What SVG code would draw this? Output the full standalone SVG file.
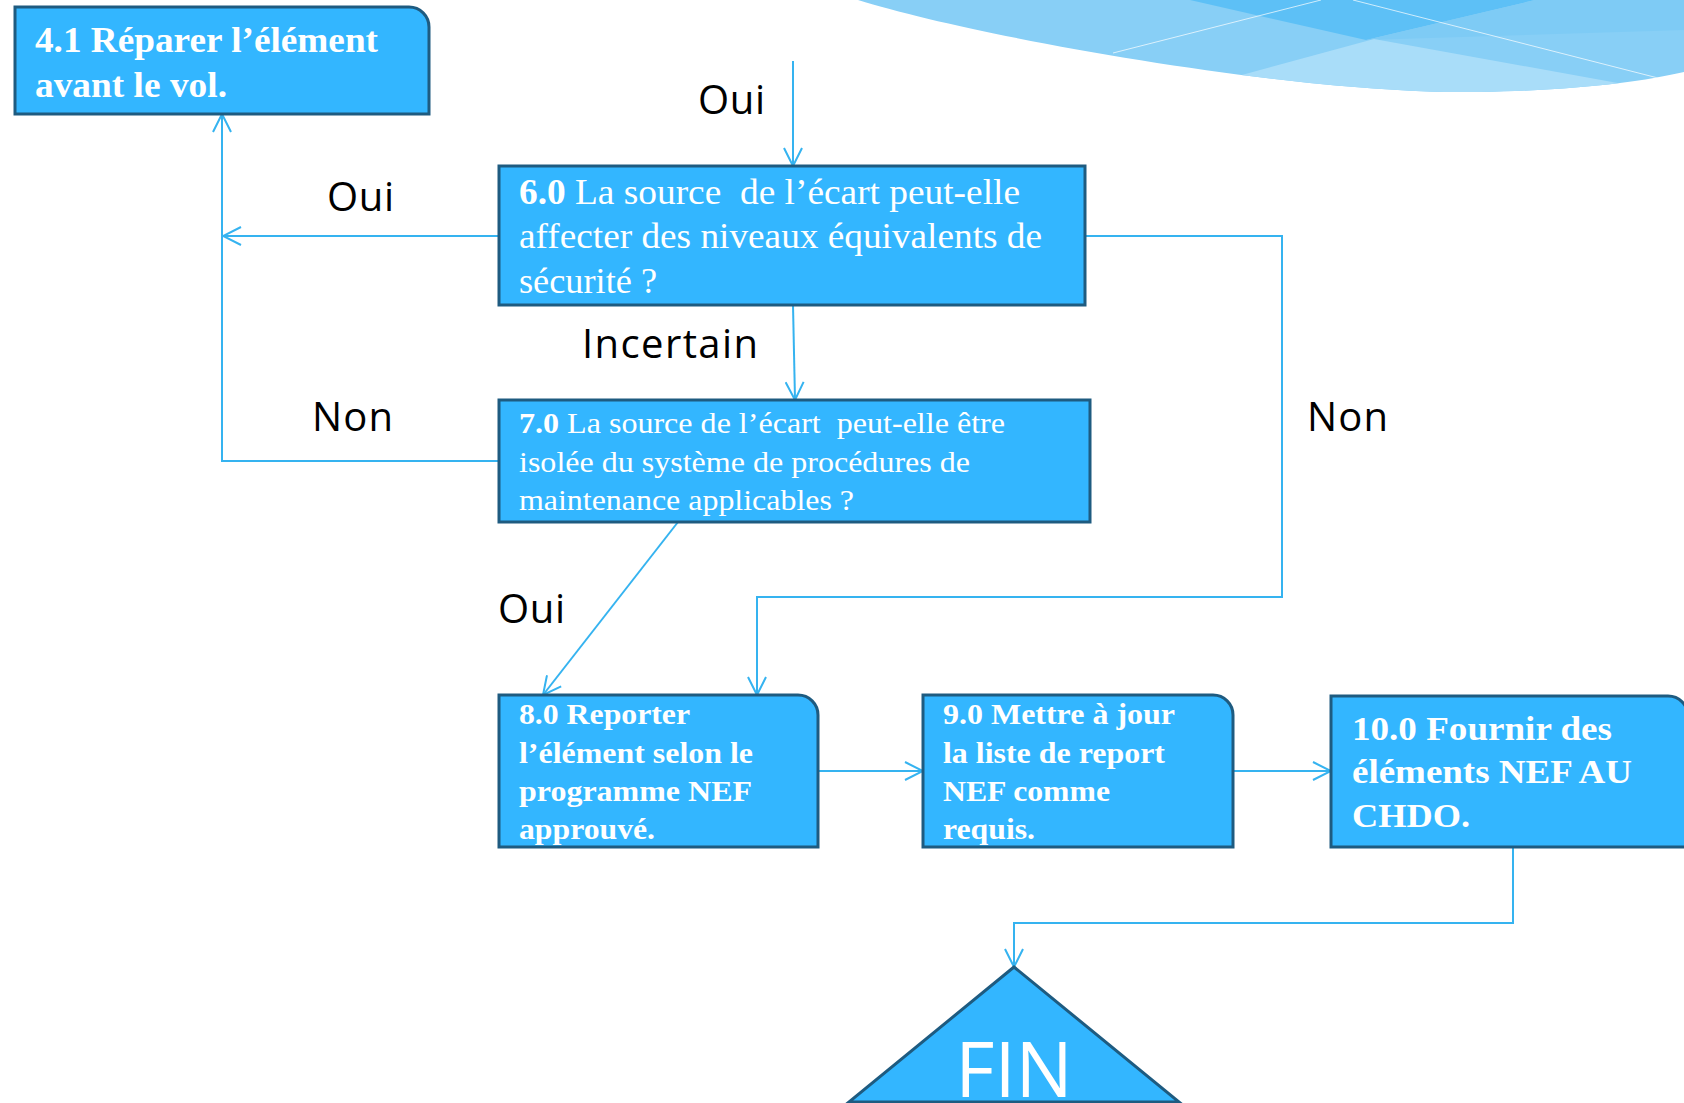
<svg xmlns="http://www.w3.org/2000/svg" width="1684" height="1103" viewBox="0 0 1684 1103">
<style>
.box{fill:#33B6FF;stroke:#1E5B80;stroke-width:3}
.t{font-family:"Liberation Serif","Times New Roman",serif;fill:#fff}
.b{font-weight:bold}
.lbl{font-family:"Open Sans","Segoe UI","Noto Sans",sans-serif;font-size:40px;fill:#000}
.c{fill:none;stroke:#35B3F0;stroke-width:2}
</style>
<defs>
<marker id="ar" viewBox="0 0 20 20" refX="19" refY="10" markerWidth="20" markerHeight="20" markerUnits="userSpaceOnUse" orient="auto">
<path d="M1,1 L19,10 L1,19" fill="none" stroke="#35B3F0" stroke-width="2"/>
</marker>
<clipPath id="wc"><path d="M858,0 C980,38 1300,95 1480,92 C1580,90 1640,82 1684,72 L1684,0 Z"/></clipPath>
</defs>
<rect width="1684" height="1103" fill="#fff"/>
<g id="wave" clip-path="url(#wc)">
<rect x="850" y="0" width="834" height="100" fill="#88CFF6"/>
<polygon points="1190,0 1535,0 1366,40" fill="#5DC0F6"/>
<polygon points="1535,0 1684,0 1684,30 1366,40" fill="#7ECBF5"/>
<polygon points="1374,39 1150,100 1684,100 1684,95" fill="#A9DDF9"/>
<line x1="1113" y1="53" x2="1321" y2="0" stroke="#fff" stroke-opacity="0.7" stroke-width="1"/>
<line x1="1353" y1="0" x2="1658" y2="78" stroke="#fff" stroke-opacity="0.7" stroke-width="1"/>
</g>
<g id="connectors">
<path class="c" d="M793,61 L793,166" marker-end="url(#ar)"/>
<path class="c" d="M499,236 L223,236" marker-end="url(#ar)"/>
<path class="c" d="M499,461 L222,461 L222,114" marker-end="url(#ar)"/>
<path class="c" d="M793,305 L795,400" marker-end="url(#ar)"/>
<path class="c" d="M1085,236 L1282,236 L1282,597 L757,597 L757,695" marker-end="url(#ar)"/>
<path class="c" d="M678,522 L543,695" marker-end="url(#ar)"/>
<path class="c" d="M818,771 L923,771" marker-end="url(#ar)"/>
<path class="c" d="M1233,771 L1331,771" marker-end="url(#ar)"/>
<path class="c" d="M1513,847 L1513,923 L1014,923 L1014,967" marker-end="url(#ar)"/>
</g>
<g id="labels">
<text class="lbl" x="698" y="114" textLength="67">Oui</text>
<text class="lbl" x="327" y="211" textLength="67">Oui</text>
<text class="lbl" x="582" y="358" textLength="176">Incertain</text>
<text class="lbl" x="312" y="431" textLength="81">Non</text>
<text class="lbl" x="1307" y="431" textLength="81">Non</text>
<text class="lbl" x="498" y="623" textLength="67">Oui</text>
</g>
<g id="n41">
<path class="box" d="M15,7 H409 A20,20 0 0 1 429,27 V114 H15 Z"/>
<text class="t b" font-size="35" x="35" y="52" textLength="343" lengthAdjust="spacingAndGlyphs">4.1 Réparer l’élément</text>
<text class="t b" font-size="35" x="35" y="97" textLength="192" lengthAdjust="spacingAndGlyphs">avant le vol.</text>
</g>
<g id="n60">
<rect class="box" x="499" y="166" width="586" height="139"/>
<text class="t" font-size="35" x="519" y="204" xml:space="preserve" textLength="501" lengthAdjust="spacingAndGlyphs"><tspan class="b">6.0</tspan> La source  de l’écart peut-elle</text>
<text class="t" font-size="35" x="519" y="248" textLength="523" lengthAdjust="spacingAndGlyphs">affecter des niveaux équivalents de</text>
<text class="t" font-size="35" x="519" y="293" textLength="138" lengthAdjust="spacingAndGlyphs">sécurité ?</text>
</g>
<g id="n70">
<rect class="box" x="499" y="400" width="591" height="122"/>
<text class="t" font-size="29" x="519" y="433" xml:space="preserve" textLength="486" lengthAdjust="spacingAndGlyphs"><tspan class="b">7.0</tspan> La source de l’écart  peut-elle être</text>
<text class="t" font-size="29" x="519" y="472" textLength="451" lengthAdjust="spacingAndGlyphs">isolée du système de procédures de</text>
<text class="t" font-size="29" x="519" y="510" textLength="335" lengthAdjust="spacingAndGlyphs">maintenance applicables ?</text>
</g>
<g id="n80">
<path class="box" d="M499,695 H798 A20,20 0 0 1 818,715 V847 H499 Z"/>
<text class="t b" font-size="30" x="519" y="724" textLength="171" lengthAdjust="spacingAndGlyphs">8.0 Reporter</text>
<text class="t b" font-size="30" x="519" y="763" textLength="234" lengthAdjust="spacingAndGlyphs">l’élément selon le</text>
<text class="t b" font-size="30" x="519" y="801" textLength="233" lengthAdjust="spacingAndGlyphs">programme NEF</text>
<text class="t b" font-size="30" x="519" y="839" textLength="136" lengthAdjust="spacingAndGlyphs">approuvé.</text>
</g>
<g id="n90">
<path class="box" d="M923,695 H1213 A20,20 0 0 1 1233,715 V847 H923 Z"/>
<text class="t b" font-size="30" x="943" y="724" textLength="232" lengthAdjust="spacingAndGlyphs">9.0 Mettre à jour</text>
<text class="t b" font-size="30" x="943" y="763" textLength="222" lengthAdjust="spacingAndGlyphs">la liste de report</text>
<text class="t b" font-size="30" x="943" y="801" textLength="167" lengthAdjust="spacingAndGlyphs">NEF comme</text>
<text class="t b" font-size="30" x="943" y="839" textLength="92" lengthAdjust="spacingAndGlyphs">requis.</text>
</g>
<g id="n100">
<path class="box" d="M1331,696 H1668 A20,20 0 0 1 1688,716 V847 H1331 Z"/>
<text class="t b" font-size="34" x="1352" y="740" textLength="260" lengthAdjust="spacingAndGlyphs">10.0 Fournir des</text>
<text class="t b" font-size="34" x="1352" y="783" textLength="280" lengthAdjust="spacingAndGlyphs">éléments NEF AU</text>
<text class="t b" font-size="34" x="1352" y="827" textLength="118" lengthAdjust="spacingAndGlyphs">CHDO.</text>
</g>
<g id="fin">
<polygon class="box" points="1014,967 849,1102 1179,1102"/>
<text x="1014" y="1097" text-anchor="middle" font-family="Open Sans, Segoe UI, sans-serif" font-size="76" fill="#fff">FIN</text>
</g>
</svg>
